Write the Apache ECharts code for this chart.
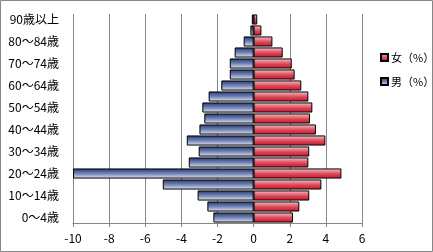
<!DOCTYPE html>
<html>
<head>
<meta charset="utf-8">
<script src="https://cdn.jsdelivr.net/npm/echarts@6/dist/echarts.min.js"></script>
<style>
html,body{margin:0;padding:0;background:#fff;}
#c{width:433px;height:252px;}
</style>
</head>
<body>
<div id="c"></div>
<script>
const categories = ['0～4歳','5～9歳','10～14歳','15～19歳','20～24歳','25～29歳','30～34歳','35～39歳','40～44歳','45～49歳','50～54歳','55～59歳','60～64歳','65～69歳','70～74歳','75～79歳','80～84歳','85～89歳','90歳以上'];
const femaleValues = [2.18, 2.53, 3.08, 3.75, 4.86, 3.03, 3.08, 3.97, 3.45, 3.12, 3.25, 3.03, 2.64, 2.27, 2.11, 1.61, 1.04, 0.43, 0.2];
const maleValues = [-2.23, -2.56, -3.1, -5.03, -10, -3.59, -3.04, -3.7, -3.0, -2.73, -2.84, -2.49, -1.79, -1.32, -1.32, -1.05, -0.55, -0.18, -0.1];
const seriesNames = ['女（%）', '男（%）'];

const chart = echarts.init(document.getElementById('c'), null, {renderer: 'canvas'});
const font = '"Noto Sans CJK JP", "Noto Sans", sans-serif';
const red = new echarts.graphic.LinearGradient(0, 0, 0, 1, [
  {offset: 0, color: '#f3c9cd'},
  {offset: 0.55, color: '#dc4656'},
  {offset: 1, color: '#c8142c'}
]);
const blue = new echarts.graphic.LinearGradient(0, 0, 0, 1, [
  {offset: 0, color: '#1f3470'},
  {offset: 0.5, color: '#7384b4'},
  {offset: 1, color: '#e2e6f3'}
]);
chart.setOption({
  animation: false,
  backgroundColor: '#fff',
  textStyle: {fontFamily: font},
  graphic: [{
    type: 'rect', shape: {x: 0.5, y: 0.5, width: 432, height: 251},
    style: {fill: 'none', stroke: '#868686', lineWidth: 1}, silent: true
  }],
  grid: {left: 73, right: 71, top: 14, bottom: 29, containLabel: false},
  legend: {
    orient: 'vertical', left: 375, top: 47, itemWidth: 7, itemHeight: 7, itemGap: 13,
    icon: 'rect',
    data: seriesNames,
    textStyle: {fontSize: 11, color: '#000', fontFamily: font, padding: [0,0,0,-2]}
  },
  xAxis: {
    type: 'value', min: -10, max: 6, interval: 2,
    axisLine: {show: true, lineStyle: {color: '#868686'}},
    axisTick: {show: true, length: 4, lineStyle: {color: '#868686'}},
    axisLabel: {fontSize: 12, color: '#000', margin: 9, fontFamily: font},
    splitLine: {show: true, lineStyle: {color: '#868686', width: 1}}
  },
  yAxis: {
    type: 'category', data: categories,
    axisLine: {show: false, onZero: false},
    axisTick: {show: false},
    axisLabel: {interval: 1, fontSize: 12, color: '#000', margin: 14, fontFamily: font}
  },
  series: [
    {
      name: seriesNames[0], type: 'bar', data: femaleValues,
      barGap: '-100%', barCategoryGap: '8%',
      itemStyle: {color: red, borderColor: '#000', borderWidth: 1}
    },
    {
      name: seriesNames[1], type: 'bar', data: maleValues,
      barGap: '-100%', barCategoryGap: '8%',
      itemStyle: {color: blue, borderColor: '#000', borderWidth: 1}
    }
  ]
});
</script>
</body>
</html>
